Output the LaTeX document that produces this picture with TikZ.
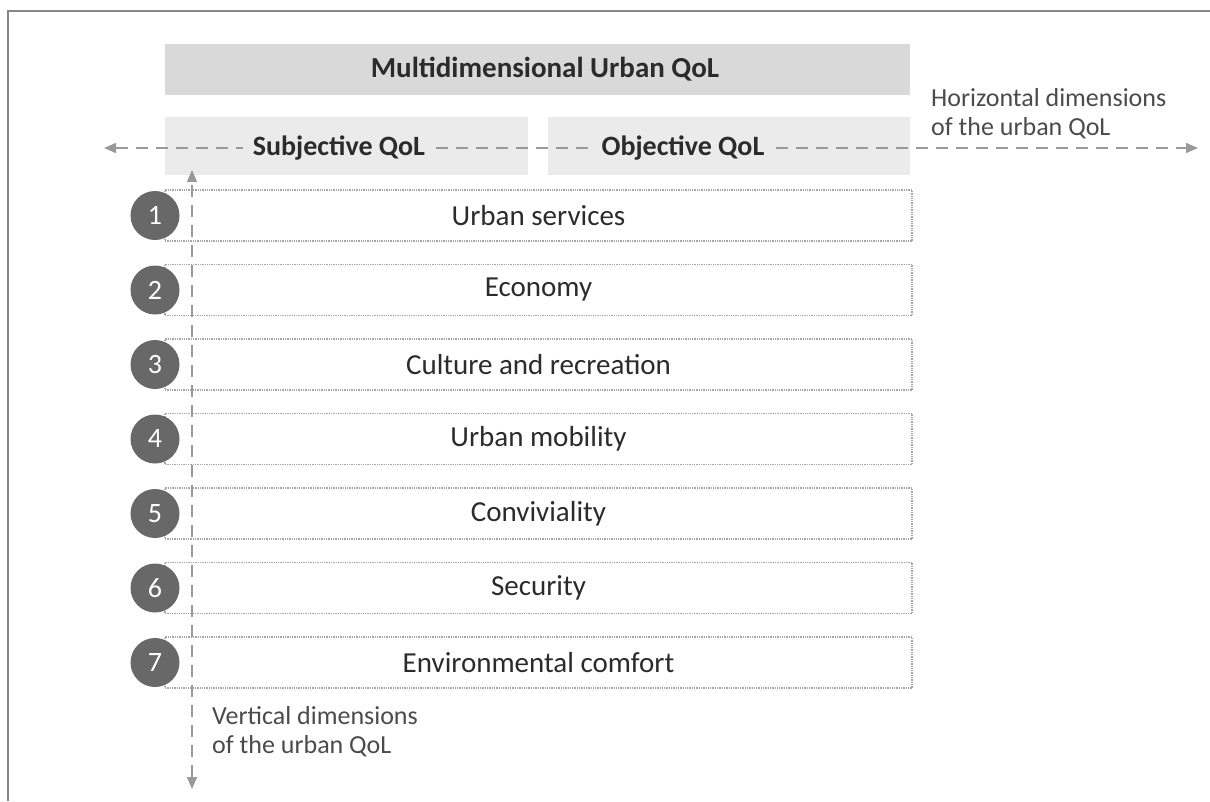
\documentclass[tikz,border=0pt]{standalone}
\usepackage{fontspec}
\setmainfont{Carlito}
\usetikzlibrary{arrows.meta}
\definecolor{hdrgray}{HTML}{D9D9D9}
\definecolor{subgray}{HTML}{EBEBEB}
\definecolor{dotgray}{HTML}{A6A6A6}
\definecolor{numgray}{HTML}{686868}
\definecolor{txt}{HTML}{2B2B2B}
\definecolor{arrgray}{HTML}{999999}
\definecolor{framegray}{HTML}{888888}
\begin{document}
\begin{tikzpicture}[x=1pt,y=-1pt,
  hdr/.style={fill=hdrgray, draw=none, inner sep=0pt, minimum width=745pt, minimum height=51pt},
  subbox/.style={fill=subgray, draw=none, inner sep=0pt, minimum height=58pt},
  boldlabel/.style={fill=subgray, inner xsep=10pt, inner ysep=4pt, text=txt, font=\bfseries\fontsize{28}{32}\selectfont},
  rowbox/.style={draw=dotgray, densely dotted, line width=1.3pt, inner sep=0pt, minimum width=747pt, minimum height=51pt, text=txt, font=\fontsize{29}{32}\selectfont},
  numc/.style={circle, fill=numgray, text=white, minimum size=49pt, inner sep=0pt, font=\fontsize{28}{28}\selectfont},
  dimarrow/.style={draw=arrgray, line width=1.4pt, dash pattern=on 12pt off 8pt, color=arrgray},
  note/.style={align=left, anchor=north west, inner sep=0pt, text=txt!85, font=\fontsize{26}{29}\selectfont}
]
\useasboundingbox (0,0) rectangle (1210,801);
% frame (top and left edges)
\draw[framegray, line width=2pt] (8,801) -- (8,11) -- (1210,11);

% header
\node[hdr] (top) at (537.5,69.5) {};
\node[text=txt, font=\bfseries\fontsize{29}{32}\selectfont] (toplabel) at (545,69) {Multidimensional Urban QoL};

% subjective / objective boxes
\node[subbox, minimum width=363pt] (subj) at (346.5,146) {};
\node[subbox, minimum width=362pt] (obj) at (729,146) {};

% horizontal dashed arrow
\coordinate (hl) at (104,148);
\coordinate (hr) at (1198,148);
\draw[dimarrow, {Triangle[length=12pt,width=10pt]}-{Triangle[length=12pt,width=10pt]}] (hl) -- (hr);

\node[boldlabel] (subjlabel) at (339,148) {Subjective QoL};
\node[boldlabel] (objlabel) at (683,148) {Objective QoL};

% horizontal note
\node[note] (hnote) at (931,88) {Horizontal dimensions\\of the urban QoL};

% rows
\node[rowbox] (r1) at (538.5,215.5) {Urban services};
\node[rowbox] (r2) at (538.5,290) {Economy};
\node[rowbox] (r3) at (538.5,364.5) {Culture and recreation};
\node[rowbox] (r4) at (538.5,439) {Urban mobility};
\node[rowbox] (r5) at (538.5,513.5) {Conviviality};
\node[rowbox] (r6) at (538.5,588) {Security};
\node[rowbox] (r7) at (538.5,662.5) {Environmental comfort};

% vertical dashed arrow
\coordinate (vt) at (192,170);
\coordinate (vb) at (192,789);
\draw[dimarrow, {Triangle[length=12pt,width=10pt]}-{Triangle[length=12pt,width=10pt]}] (vb) -- (vt);

% number circles
\node[numc] (c1) at (155,215.5) {1};
\node[numc] (c2) at (155,290) {2};
\node[numc] (c3) at (155,364.5) {3};
\node[numc] (c4) at (155,439) {4};
\node[numc] (c5) at (155,513.5) {5};
\node[numc] (c6) at (155,588) {6};
\node[numc] (c7) at (155,662.5) {7};

% vertical note
\node[note] (vnote) at (212,706) {Vertical dimensions\\of the urban QoL};
\end{tikzpicture}
\end{document}
